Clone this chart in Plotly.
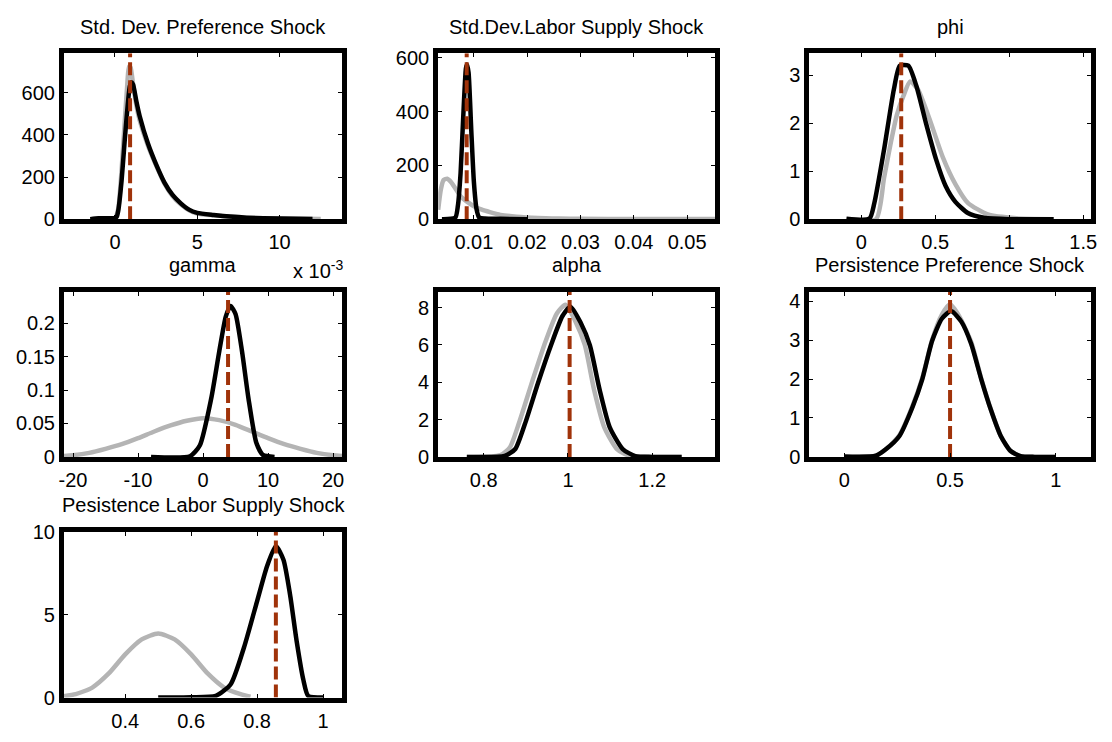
import plotly.graph_objects as go

W, H = 1112, 742

titles = ["Std. Dev. Preference Shock", "Std.Dev.Labor Supply Shock", "phi",
          "gamma", "alpha", "Persistence Preference Shock",
          "Pesistence Labor Supply Shock"]

# ---- panel 1: Std. Dev. Preference Shock
p1_prior_x = [-1.5, -0.2, 0.0, 0.2, 0.4, 0.6, 0.75, 0.85, 0.95, 1.1, 1.3, 1.5, 2.0, 2.5, 3.0, 3.5, 4.0, 4.5, 5.0, 6.0, 7.0, 8.0, 10.0, 12.5]
p1_prior_y = [0, 0, 5, 50, 230, 470, 640, 725, 720, 640, 540, 470, 350, 255, 170, 110, 70, 42, 27, 18, 11, 7, 3, 1]
p1_post_x = [-1.5, -1.0, 0.0, 0.1, 0.2, 0.4, 0.6, 0.75, 0.9, 1.0, 1.1, 1.3, 1.5, 2.0, 2.5, 3.0, 3.5, 4.0, 4.5, 5.0, 6.0, 7.0, 8.0, 10.0, 12.0]
p1_post_y = [0, 4, 5, 10, 40, 180, 380, 520, 630, 650, 640, 560, 490, 360, 260, 175, 115, 75, 45, 30, 20, 12, 7, 3, 1]
p1_mode = 0.92

# ---- panel 2: Std.Dev.Labor Supply Shock
p2_prior_x = [0.0033, 0.0038, 0.0043, 0.0050, 0.0057, 0.0065, 0.0075, 0.0087, 0.0100, 0.0115, 0.0130, 0.0150, 0.0180, 0.0220, 0.0260, 0.0300, 0.0400, 0.0500, 0.0553]
p2_prior_y = [35, 110, 145, 150, 138, 115, 85, 65, 48, 35, 26, 16, 9, 4, 2, 1, 0.5, 0.3, 0.2]
p2_post_x = [0.0040, 0.0065, 0.0070, 0.0075, 0.0080, 0.0085, 0.0087, 0.0090, 0.0095, 0.0100, 0.0105, 0.0110, 0.0120, 0.0150, 0.0200]
p2_post_y = [0, 5, 50, 170, 380, 560, 575, 545, 335, 138, 37, 6, 2, 1, 0]
p2_mode = 0.00865

# ---- panel 3: phi
p3_prior_x = [-0.1, 0.1, 0.154, 0.2, 0.24, 0.285, 0.33, 0.384, 0.46, 0.55, 0.636, 0.72, 0.855, 1.05, 1.3]
p3_prior_y = [0, 0, 0.86, 1.6, 2.17, 2.57, 2.87, 2.7, 2.1, 1.3, 0.73, 0.34, 0.1, 0.02, 0]
p3_post_x = [-0.1, 0.055, 0.088, 0.154, 0.22, 0.26, 0.318, 0.373, 0.439, 0.505, 0.57, 0.636, 0.72, 0.83, 1.0, 1.3]
p3_post_y = [0.01, 0.01, 0.33, 1.45, 2.7, 3.2, 3.2, 2.77, 1.98, 1.25, 0.69, 0.36, 0.13, 0.03, 0, 0]
p3_mode = 0.27

# ---- panel 4: gamma (x in units of 1e-3)
p4_prior_x = [-21.4, -20, -17.5, -15, -12.5, -10, -7.5, -5, -2.5, 0, 2.5, 5, 7.5, 10, 12.5, 15, 17.5, 20, 21.4]
p4_prior_y = [0.0015, 0.0025, 0.006, 0.012, 0.019, 0.028, 0.038, 0.047, 0.054, 0.058, 0.055, 0.048, 0.038, 0.028, 0.019, 0.012, 0.006, 0.0025, 0.0015]
p4_post_x = [-8, -2.0, -0.5, 1.25, 2.5, 3.5, 4.24, 5.0, 6.0, 7.0, 8.2, 9.2, 11]
p4_post_y = [0, 0.001, 0.017, 0.087, 0.158, 0.21, 0.226, 0.214, 0.158, 0.087, 0.021, 0.003, 0]
p4_mode = 3.85

# ---- panel 5: alpha
p5_prior_x = [0.76, 0.84, 0.862, 0.885, 0.916, 0.947, 0.974, 0.994, 1.017, 1.04, 1.062, 1.086, 1.117, 1.147, 1.19, 1.27]
p5_prior_y = [0, 0.1, 0.5, 1.9, 4.1, 6.2, 7.7, 8.15, 7.3, 6.0, 3.6, 1.6, 0.4, 0.05, 0, 0]
p5_post_x = [0.76, 0.85, 0.875, 0.898, 0.929, 0.96, 0.987, 1.006, 1.03, 1.052, 1.075, 1.099, 1.13, 1.16, 1.2, 1.27]
p5_post_y = [0, 0.05, 0.42, 1.77, 3.96, 6.0, 7.55, 8.05, 7.2, 5.98, 3.62, 1.6, 0.42, 0.04, 0, 0]
p5_mode = 1.004

# ---- panel 6: Persistence Preference Shock
p6_prior_x = [0.0, 0.15, 0.198, 0.26, 0.322, 0.369, 0.415, 0.461, 0.5, 0.545, 0.6, 0.647, 0.694, 0.74, 0.786, 0.833, 0.9, 1.0]
p6_prior_y = [0, 0.03, 0.2, 0.55, 1.3, 2.03, 3.0, 3.65, 3.92, 3.6, 2.95, 2.02, 1.2, 0.53, 0.15, 0.02, 0, 0]
p6_post_x = [0.0, 0.15, 0.198, 0.26, 0.322, 0.369, 0.415, 0.461, 0.505, 0.554, 0.6, 0.647, 0.694, 0.74, 0.786, 0.833, 0.9, 1.0]
p6_post_y = [0.01, 0.03, 0.2, 0.53, 1.27, 2.0, 2.98, 3.55, 3.75, 3.47, 2.9, 2.0, 1.19, 0.53, 0.15, 0.02, 0, 0]
p6_mode = 0.5

# ---- panel 7: Pesistence Labor Supply Shock
p7_prior_x = [0.214, 0.25, 0.3, 0.35, 0.4, 0.45, 0.5, 0.55, 0.6, 0.65, 0.7, 0.75, 0.78]
p7_prior_y = [0.08, 0.2, 0.6, 1.45, 2.6, 3.5, 3.86, 3.5, 2.6, 1.45, 0.6, 0.2, 0.05]
p7_post_x = [0.5, 0.6, 0.675, 0.72, 0.76, 0.8, 0.83, 0.857, 0.88, 0.9, 0.92, 0.94, 0.955, 1.0]
p7_post_y = [0, 0.02, 0.1, 0.8, 3.0, 5.8, 7.9, 9.13, 8.3, 6.2, 3.4, 1.1, 0.1, 0]
p7_mode = 0.857

priors_x = [p1_prior_x, p2_prior_x, p3_prior_x, p4_prior_x, p5_prior_x, p6_prior_x, p7_prior_x]
priors_y = [p1_prior_y, p2_prior_y, p3_prior_y, p4_prior_y, p5_prior_y, p6_prior_y, p7_prior_y]
posts_x = [p1_post_x, p2_post_x, p3_post_x, p4_post_x, p5_post_x, p6_post_x, p7_post_x]
posts_y = [p1_post_y, p2_post_y, p3_post_y, p4_post_y, p5_post_y, p6_post_y, p7_post_y]
modes = [p1_mode, p2_mode, p3_mode, p4_mode, p5_mode, p6_mode, p7_mode]

x_ranges = [[-3.1, 13.8], [0.0033, 0.0553], [-0.35, 1.55], [-21.4, 21.4],
            [0.692, 1.35], [-0.164, 1.164], [0.214, 1.058]]
y_ranges = [[0, 788], [0, 617], [0, 3.46], [0, 0.247], [0, 8.84], [0, 4.24], [0, 10]]

x_ticks = [[0, 5, 10], [0.01, 0.02, 0.03, 0.04, 0.05], [0, 0.5, 1, 1.5],
           [-20, -10, 0, 10, 20], [0.8, 1, 1.2], [0, 0.5, 1], [0.4, 0.6, 0.8, 1]]
x_ticktext = [["0", "5", "10"], ["0.01", "0.02", "0.03", "0.04", "0.05"], ["0", "0.5", "1", "1.5"],
              ["-20", "-10", "0", "10", "20"], ["0.8", "1", "1.2"], ["0", "0.5", "1"],
              ["0.4", "0.6", "0.8", "1"]]
y_ticks = [[0, 200, 400, 600], [0, 200, 400, 600], [0, 1, 2, 3],
           [0, 0.05, 0.1, 0.15, 0.2], [0, 2, 4, 6, 8], [0, 1, 2, 3, 4], [0, 5, 10]]
y_ticktext = [["0", "200", "400", "600"], ["0", "200", "400", "600"], ["0", "1", "2", "3"],
              ["0", "0.05", "0.1", "0.15", "0.2"], ["0", "2", "4", "6", "8"],
              ["0", "1", "2", "3", "4"], ["0", "5", "10"]]

# pixel frames (left, right, top, bottom) - centres of the frame lines
cols = [(57, 343), (435, 720), (810, 1099)]
rows = [(41, 217), (287, 462), (534, 710)]
frames = [(cols[0], rows[0]), (cols[1], rows[0]), (cols[2], rows[0]),
          (cols[0], rows[1]), (cols[1], rows[1]), (cols[2], rows[1]),
          (cols[0], rows[2])]

LW = 5
INSET = LW / 2  # plotly draws axis lines outside the plot area

GRAY = "#b4b4b4"
BLACK = "#000000"
RED = "#a0330a"
FONT = "Liberation Sans, Arial, sans-serif"

fig = go.Figure()
annotations = []
for i in range(7):
    (l, r), (t, b) = frames[i]
    xa = "xaxis" if i == 0 else f"xaxis{i+1}"
    ya = "yaxis" if i == 0 else f"yaxis{i+1}"
    xr = "x" if i == 0 else f"x{i+1}"
    yr = "y" if i == 0 else f"y{i+1}"
    fig.add_trace(go.Scatter(x=priors_x[i], y=priors_y[i], mode="lines",
                             line=dict(color=GRAY, width=4.5, shape="spline", smoothing=0.6),
                             xaxis=xr, yaxis=yr, showlegend=False, hoverinfo="skip"))
    fig.add_trace(go.Scatter(x=posts_x[i], y=posts_y[i], mode="lines",
                             line=dict(color=BLACK, width=4.5, shape="spline", smoothing=0.6),
                             xaxis=xr, yaxis=yr, showlegend=False, hoverinfo="skip"))
    fig.add_trace(go.Scatter(x=[modes[i], modes[i]], y=y_ranges[i], mode="lines",
                             line=dict(color=RED, width=4, dash="13px,5px"),
                             xaxis=xr, yaxis=yr, showlegend=False, hoverinfo="skip"))
    axcommon = dict(showline=True, linewidth=LW, linecolor="black", mirror="ticks",
                    ticks="inside", ticklen=4, tickwidth=1, tickcolor="black",
                    showgrid=False, zeroline=False, layer="above traces",
                    tickfont=dict(family=FONT, size=20, color="black"))
    fig.update_layout({
        xa: dict(domain=[(l + INSET) / W, (r - INSET) / W],
                 range=x_ranges[i], tickmode="array",
                 tickvals=x_ticks[i], ticktext=x_ticktext[i], anchor=yr,
                 ticklabelstandoff=1, **axcommon),
        ya: dict(domain=[1 - (b - INSET) / H, 1 - (t + INSET) / H],
                 range=y_ranges[i], tickmode="array",
                 tickvals=y_ticks[i], ticktext=y_ticktext[i], anchor=xr,
                 ticklabelstandoff=0, **axcommon),
    })
    annotations.append(dict(text=titles[i], x=(l + r) / 2 / W, y=1 - t / H,
                            xref="paper", yref="paper", xanchor="center", yanchor="bottom",
                            yshift=11, showarrow=False,
                            font=dict(family=FONT, size=20, color="black")))

(l, r), (t, b) = frames[3]
annotations.append(dict(text="x 10<sup>-3</sup>", x=r / W, y=1 - t / H, xref="paper", yref="paper",
                        xanchor="right", yanchor="bottom", yshift=5, showarrow=False,
                        font=dict(family=FONT, size=20, color="black")))

fig.update_layout(width=W, height=H, margin=dict(l=0, r=0, t=0, b=0),
                  paper_bgcolor="white", plot_bgcolor="white",
                  annotations=annotations, showlegend=False)

fig.write_html("out.html", config={"displayModeBar": False},
               post_script="document.body.style.margin='0';document.body.style.overflow='hidden';")
